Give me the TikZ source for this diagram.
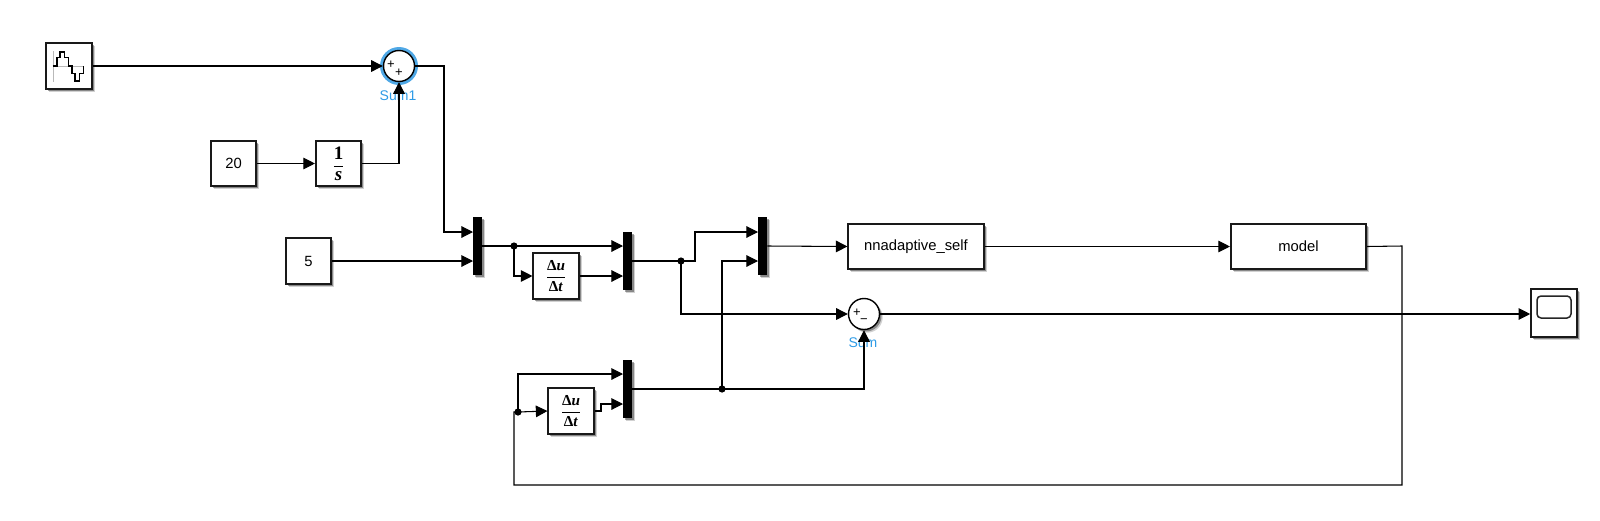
\documentclass[tikz,border=0pt]{standalone}
\usepackage{amsmath}
\usepackage{fontspec}
\setmainfont{Liberation Sans}
\newfontfamily\timesface{Liberation Serif}
\usetikzlibrary{arrows.meta,shadows}
\definecolor{simblue}{HTML}{2E9BE6}
\definecolor{halo}{HTML}{4FA8E6}
\newcommand{\diffglyph}{$\dfrac{\text{\timesface\fontsize{7.6}{8}\selectfont\bfseries Δ\textit{u}}}{\text{\timesface\fontsize{7.6}{8}\selectfont\bfseries Δ\textit{t}}}$}
\newcommand{\intglyph}{$\dfrac{\text{\timesface\fontsize{9.5}{10}\selectfont\bfseries 1}}{\text{\timesface\fontsize{9.5}{10}\selectfont\bfseries\itshape s}}$}
\tikzset{
  x=0.5pt,y=-0.5pt,
  softshadow/.style={
    drop shadow={shadow xshift=1.6pt,shadow yshift=-1.6pt,fill=black,opacity=0.18},
    drop shadow={shadow xshift=1.0pt,shadow yshift=-1.0pt,fill=black,opacity=0.35}},
  block/.style={draw=black!90,line width=0.8pt,fill=white,inner sep=0pt,font=\fontsize{7.4}{8}\selectfont,softshadow,minimum height=22.75pt},
  sqblock/.style={block,minimum width=22.75pt},
  wideblock/.style={block,minimum width=67.75pt},
  muxbar/.style={fill=black,draw=none,inner sep=0pt,minimum width=4.5pt,minimum height=29pt,softshadow},
  sumbase/.style={circle,draw=black,line width=0.7pt,fill=white,inner sep=0pt,minimum size=15.5pt},
  sumnode/.style={sumbase,softshadow},
  wire/.style={line width=0.53pt,draw=black},
  flow/.style={wire,-{Triangle[length=5.8pt,width=5.8pt]}},
  junction/.style={circle,fill=black,inner sep=0pt,minimum size=3.6pt},
  tag/.style={text=simblue,font=\fontsize{7}{8}\selectfont,inner sep=0pt},
  sign/.style={font=\fontsize{6.5}{7}\selectfont,inner sep=0pt},
}
\begin{document}
\begin{tikzpicture}
\useasboundingbox (0,0) rectangle (1600,520);
% blocks
\node[sqblock] (gen) at (69,66) {};
\fill[halo] (399,66) circle (19);
\node[sumbase] (sumone) at (399,66) {};
\node[sign] (pa) at (391,65) {+};
\node[sign] (pb) at (399,73) {+};
\node[tag] (sumonelabel) at (398,96) {Sum1};
\node[sqblock] (twenty) at (233.5,163.5) {20};
\node[sqblock] (integ) at (338.5,163.5) {\intglyph};
\node[sqblock] (five) at (308.5,261) {5};
\node[muxbar] (muxa) at (477.5,246) {};
\node[muxbar] (muxb) at (627.5,261) {};
\node[muxbar] (muxc) at (762.5,246) {};
\node[muxbar] (muxd) at (627.5,389) {};
\node[sqblock] (dera) at (556,276) {\diffglyph};
\node[sqblock] (derb) at (571,411) {\diffglyph};
\node[wideblock] (nn) at (916,246.5) {nnadaptive\_self};
\node[wideblock] (model) at (1298.5,246.5) {model};
\node[tag] (sumlabel) at (863,343) {Sum};
\node[sumnode] (sumtwo) at (864,314) {};
\node[sign] (pc) at (857,313) {+};
\node[sign] (pd) at (864,321) {−};
\node[block,minimum width=23pt,minimum height=24pt] (scope) at (1554,313) {};
% scope icon
\draw[line width=0.75pt,draw=black!85,rounded corners=2pt,fill=white] (1537,296) rectangle (1571,318);
% signal generator icon
\draw[gray!55,line width=0.4pt] (53,51) -- (53,82) (53,66) -- (84,66);
\draw[black,line width=0.8pt] (52.7,65.7) -- (56.7,65.7) -- (56.7,57.3) -- (60,57.3) -- (60,51.7) -- (64.3,51.7) -- (64.3,57.3) -- (68.3,57.3) -- (68.3,65.7) -- (71.7,65.7) -- (71.7,73.3) -- (75,73.3) -- (75,81) -- (79.3,81) -- (79.3,73.3) -- (83.3,73.3) -- (83.3,65.7);
% free routing points
\coordinate (bendtop) at (444,66);
\coordinate (ain) at (473,232);
\coordinate (aintwo) at (473,261);
\coordinate (bin) at (623,246);
\coordinate (bintwo) at (623,276);
\coordinate (cin) at (758,232);
\coordinate (cintwo) at (758,261);
\coordinate (dina) at (623,374);
\coordinate (dinb) at (623,404);
\node[junction] (ja) at (514,246) {};
\node[junction] (jb) at (681,261) {};
\node[junction] (jc) at (722,389) {};
\node[junction] (jd) at (518,412) {};
% wires
\draw[flow] (gen.east) -- (sumone.west);
\draw[flow] (twenty.east) -- (integ.west);
\draw[flow] (integ.east) -| (sumone.south);
\draw[flow] (sumone.east) -- (bendtop) |- (ain);
\draw[flow] (five.east) -- (aintwo);
\draw[flow] (muxa.east) -- (bin);
\draw[flow] (ja.center) |- (dera.west);
\draw[flow] (dera.east) -- (bintwo);
\draw[wire] (muxb.east) -- (jb.center);
\draw[flow] (jb.center) -- (695,261) |- (cin);
\draw[flow] (jb.center) |- (sumtwo.west);
\draw[flow] (jc.center) |- (cintwo);
\draw[flow] (muxd.east) -| (sumtwo.south);
\draw[flow] (muxc.east) -- (nn.west);
\draw[flow] (nn.east) -- (model.west);
\draw[flow] (sumtwo.east) -- (scope.west |- sumtwo.east);
\draw[wire] (model.east) -- (1402,246) |- (514,485) |- (jd.center);
\draw[flow] (jd.center) |- (dina);
\draw[flow] (jd.center) -- (derb.west);
\draw[flow] (derb.east) -- (601,411) |- (dinb);
\end{tikzpicture}
\end{document}
